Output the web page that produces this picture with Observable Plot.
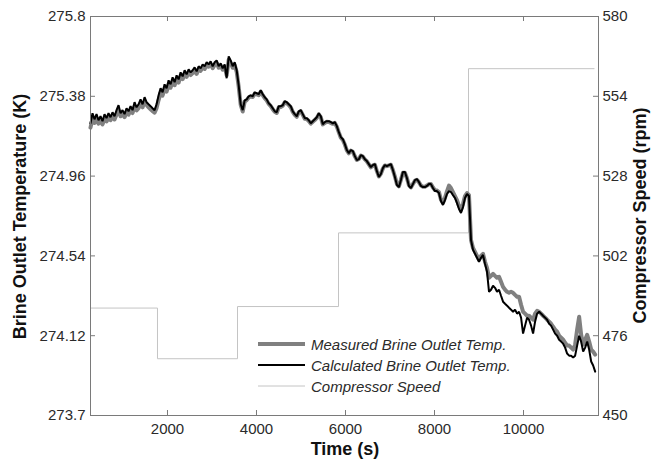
<!DOCTYPE html>
<html>
<head>
<meta charset="utf-8">
<script src="https://cdn.jsdelivr.net/npm/d3@7"></script>
<script src="https://cdn.jsdelivr.net/npm/@observablehq/plot@0.6"></script>
<style>
  html, body { margin: 0; padding: 0; background: #fff; }
  svg { display: block; }
</style>
</head>
<body>
<div id="chart"></div>
<script>
// ---- Data ----
const timeS = [
  270,315,360,405,450,495,540,585,630,675,720,765,810,855,900,945,990,1035,1080,1125,
  1170,1215,1260,1305,1350,1395,1440,1485,1530,1575,1620,1665,1710,1755,1800,1845,1890,1935,1980,2025,
  2070,2115,2160,2205,2250,2295,2340,2385,2430,2475,2520,2565,2610,2655,2700,2745,2790,2835,2880,2925,
  2970,3015,3060,3105,3150,3195,3240,3285,3330,3375,3420,3465,3510,3555,3600,3645,3690,3735,3780,3825,
  3870,3915,3960,4005,4050,4095,4140,4185,4230,4275,4320,4365,4410,4455,4500,4545,4590,4635,4680,4725,
  4770,4815,4860,4905,4950,4995,5040,5085,5130,5175,5220,5265,5310,5355,5400,5445,5490,5535,5580,5625,
  5670,5715,5760,5805,5850,5895,5940,5985,6030,6075,6120,6165,6210,6255,6300,6345,6390,6435,6480,6525,
  6570,6615,6660,6705,6750,6795,6840,6885,6930,6975,7020,7065,7110,7155,7200,7245,7290,7335,7380,7425,
  7470,7515,7560,7605,7650,7695,7740,7785,7830,7875,7920,7965,8010,8055,8100,8145,8190,8235,8280,8325,
  8370,8415,8460,8505,8550,8595,8640,8685,8730,8775,8820,8865,8910,8955,9000,9045,9090,9135,9180,9225,
  9270,9315,9360,9405,9450,9495,9540,9585,9630,9675,9720,9765,9810,9855,9900,9945,9990,10035,10080,10125,
  10170,10215,10260,10305,10350,10395,10440,10485,10530,10575,10620,10665,10710,10755,10800,10845,10890,10935,10980,11025,
  11070,11115,11160,11205,11250,11295,11340,11385,11430,11475,11520,11565,11610
];

const measuredK = [
  275.215,275.262,275.240,275.258,275.236,275.250,275.232,275.262,275.248,275.266,275.254,275.272,275.258,275.284,275.305,275.275,275.286,275.270,275.294,275.283,
  275.305,275.292,275.326,275.306,275.318,275.342,275.322,275.352,275.334,275.322,275.312,275.302,275.294,275.318,275.360,275.398,275.384,275.420,275.405,275.440,
  275.425,275.458,275.438,275.470,275.452,275.486,275.470,275.498,275.482,275.504,275.492,275.502,275.515,275.498,275.522,275.514,275.532,275.524,275.542,275.536,
  275.550,275.528,275.545,275.556,275.530,275.542,275.520,275.536,275.490,275.572,275.556,275.530,275.545,275.508,275.430,275.335,275.300,275.352,275.360,275.374,
  275.380,275.376,275.394,275.390,275.386,275.404,275.386,275.370,275.358,275.340,275.328,275.312,275.298,275.292,275.322,275.324,275.330,275.348,275.344,275.334,
  275.322,275.298,275.282,275.272,275.296,275.302,275.282,275.262,275.260,275.250,275.236,275.246,275.255,275.266,275.285,275.270,275.232,275.240,275.246,275.245,
  275.240,275.235,275.240,275.220,275.190,275.162,275.150,275.126,275.095,275.080,275.094,275.088,275.064,275.045,275.050,275.068,275.063,275.048,275.038,275.022,
  275.006,275.016,275.020,274.986,274.958,274.972,275.000,275.016,275.012,275.016,275.020,274.992,274.958,274.918,274.906,274.940,274.978,274.978,274.950,274.912,
  274.900,274.918,274.936,274.940,274.928,274.910,274.904,274.904,274.910,274.918,274.918,274.900,274.886,274.884,274.876,274.836,274.818,274.845,274.880,274.910,
  274.897,274.876,274.855,274.834,274.803,274.782,274.813,274.855,274.871,274.860,274.624,274.582,274.561,274.540,274.519,274.540,274.551,274.509,274.477,274.425,
  274.435,274.446,274.435,274.425,274.430,274.404,274.377,274.362,274.351,274.346,274.351,274.346,274.335,274.325,274.325,274.283,274.246,274.236,274.225,274.225,
  274.215,274.204,274.236,274.251,274.246,274.236,274.225,274.215,274.204,274.194,274.183,274.167,274.152,274.141,274.120,274.110,274.099,274.083,274.068,274.068,
  274.057,274.047,274.073,274.152,274.220,274.125,274.073,274.099,274.125,274.089,274.047,274.036,274.020
];

const calculatedK = [
  275.238,275.291,275.259,275.286,275.254,275.275,275.249,275.286,275.265,275.291,275.270,275.296,275.275,275.307,275.333,275.291,275.307,275.286,275.317,275.301,
  275.328,275.307,275.349,275.322,275.338,275.364,275.338,275.375,275.349,275.338,275.328,275.317,275.307,275.338,275.385,275.422,275.401,275.443,275.422,275.464,
  275.443,275.480,275.454,275.490,275.469,275.506,275.485,275.517,275.496,275.522,275.506,275.517,275.532,275.511,275.538,275.527,275.548,275.538,275.559,275.548,
  275.564,275.538,275.559,275.569,275.538,275.553,275.527,275.548,275.475,275.590,275.569,275.538,275.559,275.517,275.438,275.338,275.307,275.359,275.364,275.380,
  275.385,275.380,275.401,275.396,275.391,275.412,275.391,275.375,275.364,275.343,275.333,275.317,275.301,275.296,275.328,275.328,275.333,275.354,275.349,275.338,
  275.328,275.301,275.286,275.275,275.301,275.307,275.286,275.265,275.265,275.254,275.238,275.249,275.259,275.270,275.291,275.275,275.233,275.244,275.249,275.249,
  275.244,275.238,275.244,275.223,275.191,275.165,275.154,275.128,275.097,275.081,275.097,275.091,275.065,275.044,275.049,275.070,275.065,275.049,275.039,275.023,
  275.007,275.018,275.023,274.986,274.955,274.971,275.002,275.018,275.013,275.018,275.023,274.992,274.955,274.913,274.902,274.939,274.981,274.981,274.950,274.908,
  274.897,274.918,274.939,274.944,274.929,274.908,274.902,274.902,274.908,274.918,274.918,274.897,274.881,274.881,274.871,274.829,274.808,274.834,274.866,274.881,
  274.876,274.860,274.845,274.818,274.787,274.766,274.797,274.845,274.866,274.855,274.624,274.572,274.551,274.530,274.509,274.530,274.545,274.498,274.456,274.351,
  274.362,274.383,274.372,274.351,274.362,274.330,274.299,274.288,274.278,274.267,274.257,274.246,274.257,274.236,274.246,274.215,274.131,274.173,274.215,274.204,
  274.173,274.131,274.194,274.236,274.246,274.236,274.225,274.215,274.204,274.183,274.173,274.152,274.131,274.120,274.099,274.089,274.078,274.057,274.026,274.015,
  274.015,274.005,274.015,274.068,274.120,274.089,274.036,274.057,274.089,274.047,273.984,273.963,273.931
];

const speedTimeS = [270, 1775, 3573, 5843, 8764, 11590];
const speedRpm   = [485, 468.5, 485.5, 509.5, 563, 563];

const xTicks    = [2000, 4000, 6000, 8000, 10000];
const tempTicks = [273.7, 274.12, 274.54, 274.96, 275.38, 275.8];
const rpmTicks  = [450, 476, 502, 528, 554, 580];

const xDomain    = [270, 11685];
const tempDomain = [273.7, 275.8];
const rpmDomain  = [450, 580];

const legendLabels = ["Measured Brine Outlet Temp.", "Calculated Brine Outlet Temp.", "Compressor Speed"];

// ---- Build tables ----
const measured   = timeS.map((t, i) => ({t, v: measuredK[i]}));
const calculated = timeS.map((t, i) => ({t, v: calculatedK[i]}));
const speed      = speedTimeS.map((t, i) => ({t, rpm: speedRpm[i]}));

// secondary (rpm) axis mapped onto the temperature scale
const rpmToTemp = r => tempDomain[0] + (r - rpmDomain[0]) * (tempDomain[1] - tempDomain[0]) / (rpmDomain[1] - rpmDomain[0]);

// ---- Layout ----
const W = 652, H = 459, ML = 90, MR = 54, MT = 16, MB = 44;
const PW = W - ML - MR, PH = H - MT - MB, TICK = 5;
const frameColor = "#7a7a7a";
const textColor = "#2a2a2a";

const chart = Plot.plot({
  width: W, height: H,
  marginLeft: ML, marginRight: MR, marginTop: MT, marginBottom: MB,
  style: {fontFamily: "'Liberation Sans', Arial, sans-serif", fontSize: "15px", color: textColor, background: "#fff"},
  x: {domain: xDomain},
  y: {domain: tempDomain},
  marks: [
    Plot.line(speed, {x: "t", y: d => rpmToTemp(d.rpm), curve: "step-after", stroke: "#c4c4c4", strokeWidth: 1}),
    Plot.line(measured, {x: "t", y: "v", stroke: "#808080", strokeWidth: 4, strokeLinejoin: "round"}),
    Plot.line(calculated, {x: "t", y: "v", stroke: "#000", strokeWidth: 2, strokeLinejoin: "miter"}),
    Plot.frame({stroke: frameColor, strokeWidth: 1}),
    Plot.axisX({ticks: xTicks, tickSize: 0, tickPadding: 8, label: null, tickFormat: d => String(d)}),
    Plot.axisY({ticks: tempTicks, anchor: "left", tickSize: 0, tickPadding: 5, label: null, tickFormat: d => String(+d.toFixed(2))}),
    Plot.axisY({ticks: rpmTicks.map(rpmToTemp), anchor: "right", tickSize: 0, tickPadding: 4, label: null,
      tickFormat: d => String(Math.round(rpmDomain[0] + (d - tempDomain[0]) * (rpmDomain[1] - rpmDomain[0]) / (tempDomain[1] - tempDomain[0])))}),
    // inward tick marks on all four sides
    Plot.tickX(xTicks, {x: d => d, insetTop: PH - TICK, stroke: frameColor}),
    Plot.tickX(xTicks, {x: d => d, insetBottom: PH - TICK, stroke: frameColor}),
    Plot.tickY(tempTicks, {y: d => d, insetRight: PW - TICK, stroke: frameColor}),
    Plot.tickY(rpmTicks.map(rpmToTemp), {y: d => d, insetLeft: PW - TICK, stroke: frameColor})
  ]
});

document.getElementById("chart").appendChild(chart);

// ---- Axis titles and legend ----
const svg = d3.select(chart);
const titleFont = "'Liberation Sans', Arial, sans-serif";

svg.append("text")
  .attr("transform", `translate(20,${MT + PH / 2 + 1}) rotate(-90)`)
  .attr("text-anchor", "middle").attr("dominant-baseline", "central")
  .attr("font-family", titleFont).attr("font-size", 18).attr("font-weight", "bold").attr("fill", "#111")
  .text("Brine Outlet Temperature (K)");

svg.append("text")
  .attr("transform", `translate(640,${MT + PH / 2}) rotate(-90)`)
  .attr("text-anchor", "middle").attr("dominant-baseline", "central")
  .attr("font-family", titleFont).attr("font-size", 18).attr("font-weight", "bold").attr("fill", "#111")
  .text("Compressor Speed (rpm)");

svg.append("text")
  .attr("x", ML + PW / 2 + 1).attr("y", 449)
  .attr("text-anchor", "middle").attr("dominant-baseline", "central")
  .attr("font-family", titleFont).attr("font-size", 18).attr("font-weight", "bold").attr("fill", "#111")
  .text("Time (s)");

const legendStyles = [
  {stroke: "#808080", width: 4},
  {stroke: "#000", width: 2},
  {stroke: "#c4c4c4", width: 1}
];
const lg = svg.append("g").attr("text-anchor", "start");
legendLabels.forEach((label, i) => {
  const y = 344 + i * 21;
  lg.append("line").attr("x1", 258).attr("x2", 305).attr("y1", y).attr("y2", y)
    .attr("stroke", legendStyles[i].stroke).attr("stroke-width", legendStyles[i].width);
  lg.append("text").attr("x", 311).attr("y", y).attr("dominant-baseline", "central")
    .attr("text-anchor", "start")
    .attr("font-family", titleFont).attr("font-size", 15).attr("font-style", "italic").attr("fill", textColor)
    .text(label);
});
</script>
</body>
</html>
